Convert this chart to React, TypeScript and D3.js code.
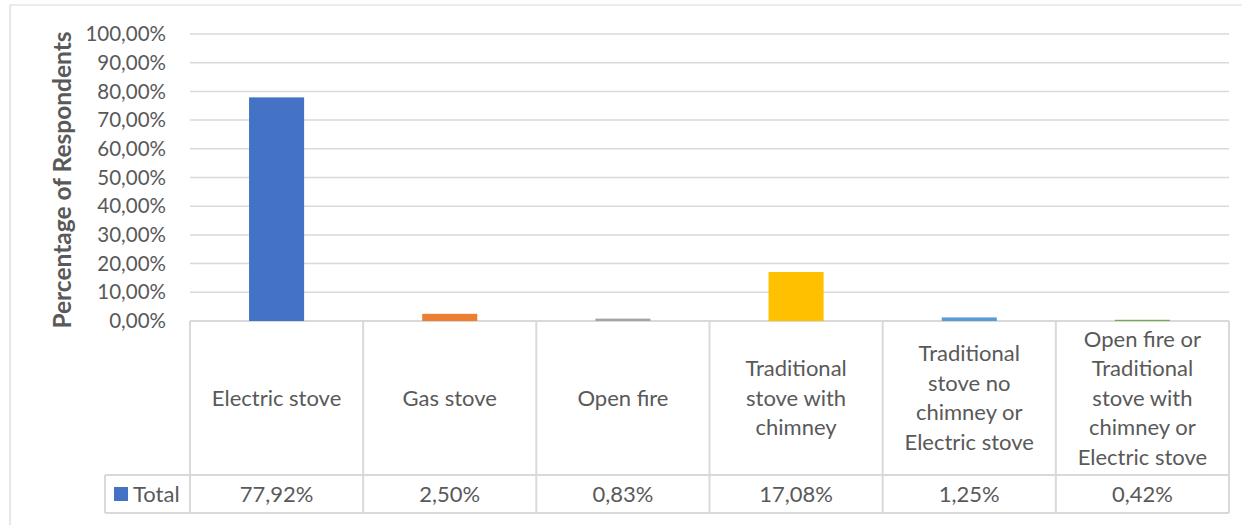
import React from "react";
import * as d3 from "d3";

const categories = [
  "Electric stove",
  "Gas stove",
  "Open fire",
  "Traditional stove with chimney",
  "Traditional stove no chimney or Electric stove",
  "Open fire or Traditional stove with chimney or Electric stove",
];
const values = [77.92, 2.5, 0.83, 17.08, 1.25, 0.42];
const valueLabels = ["77,92%", "2,50%", "0,83%", "17,08%", "1,25%", "0,42%"];
const colors = ["#4472C4", "#ED7D31", "#A5A5A5", "#FFC000", "#5B9BD5", "#70AD47"];
const yTicks = [0, 10, 20, 30, 40, 50, 60, 70, 80, 90, 100];
const seriesName = "Total";
const yTitle = "Percentage of Respondents";

const FONT = "Lato, 'Open Sans', sans-serif";
const TXT = "#595959";
const LINE = "#D9D9D9";

function wrap(text: string, maxW: number, font: string): string[] {
  const canvas = document.createElement("canvas");
  const ctx = canvas.getContext("2d")!;
  ctx.font = font;
  const words = text.split(" ");
  const lines: string[] = [];
  let cur = "";
  for (const w of words) {
    const t = cur ? cur + " " + w : w;
    if (ctx.measureText(t).width > maxW && cur) {
      lines.push(cur);
      cur = w;
    } else cur = t;
  }
  if (cur) lines.push(cur);
  return lines;
}

export default function App() {
  const W = 1251, H = 525;
  const x0 = 190, x1 = 1229;
  const yTop = 34, yBase = 321;
  const rowTop = 475, rowBot = 513, legendLeft = 105;
  const fs = 22;
  const tfs = 20.5;

  const x = d3.scaleBand<string>().domain(categories).range([x0, x1]).padding(0);
  const y = d3.scaleLinear().domain([0, 100]).range([yBase, yTop]);
  const bw = x.bandwidth() * 0.318;
  const fmt = (v: number) => d3.format(".2f")(v).replace(".", ",") + "%";

  return (
    <svg width={W} height={H} style={{ position: "absolute", left: 0, top: 0, background: "#fff" }}>
      <rect x={0} y={0} width={W} height={H} fill="#fff" />
      {/* outer frame */}
      <line x1={10} x2={1242} y1={5} y2={5} stroke={LINE} strokeWidth={1.2} />
      <line x1={10} x2={10} y1={5} y2={H} stroke={LINE} strokeWidth={1.2} />

      {/* gridlines */}
      {yTicks.map((t) => (
        <line key={t} x1={x0} x2={x1} y1={y(t)} y2={y(t)} stroke={LINE} strokeWidth={t === 0 ? 2 : 1.5} />
      ))}
      {/* tick labels */}
      {yTicks.map((t) => (
        <text key={"l" + t} x={166} y={y(t)} dy="0.35em" textAnchor="end" fontFamily={FONT} fontSize={tfs} fill={TXT}>
          {fmt(t)}
        </text>
      ))}
      {/* y title */}
      <text
        transform={`translate(71,180) rotate(-90)`}
        textAnchor="middle"
        fontFamily={FONT}
        fontSize={24.5}
        fontWeight="bold"
        fill={TXT}
      >
        {yTitle}
      </text>

      {/* bars */}
      {categories.map((c, i) => (
        <rect
          key={c}
          x={x(c)! + (x.bandwidth() - bw) / 2}
          y={y(values[i])}
          width={bw}
          height={yBase - y(values[i])}
          fill={colors[i]}
        />
      ))}

      {/* table lines */}
      {[...categories.map((c) => x(c)!), x1].map((vx, i) => (
        <line key={"v" + i} x1={vx} x2={vx} y1={yBase} y2={rowBot} stroke={LINE} strokeWidth={2} />
      ))}
      <line x1={legendLeft} x2={legendLeft} y1={rowTop} y2={rowBot} stroke={LINE} strokeWidth={2} />
      <line x1={legendLeft} x2={x1} y1={rowTop} y2={rowTop} stroke={LINE} strokeWidth={2} />
      <line x1={legendLeft} x2={x1} y1={rowBot} y2={rowBot} stroke={LINE} strokeWidth={2} />

      {/* category labels */}
      {categories.map((c) => {
        const lines = wrap(c, 148, `${fs}px ${FONT}`);
        const lh = 29.5;
        const cy = (yBase + rowTop) / 2;
        const start = cy - ((lines.length - 1) * lh) / 2;
        return (
          <text key={"c" + c} textAnchor="middle" fontFamily={FONT} fontSize={fs} fill={TXT}>
            {lines.map((ln, j) => (
              <tspan key={j} x={x(c)! + x.bandwidth() / 2} y={start + j * lh} dy="0.35em">
                {ln}
              </tspan>
            ))}
          </text>
        );
      })}

      {/* legend cell */}
      <rect x={114} y={487} width={14} height={14} fill={colors[0]} />
      <text x={133} y={(rowTop + rowBot) / 2} dy="0.35em" fontFamily={FONT} fontSize={fs} fill={TXT}>
        {seriesName}
      </text>

      {/* value labels */}
      {categories.map((c, i) => (
        <text
          key={"v" + c}
          x={x(c)! + x.bandwidth() / 2}
          y={(rowTop + rowBot) / 2}
          dy="0.35em"
          textAnchor="middle"
          fontFamily={FONT}
          fontSize={fs}
          fill={TXT}
        >
          {valueLabels[i]}
        </text>
      ))}
    </svg>
  );
}
